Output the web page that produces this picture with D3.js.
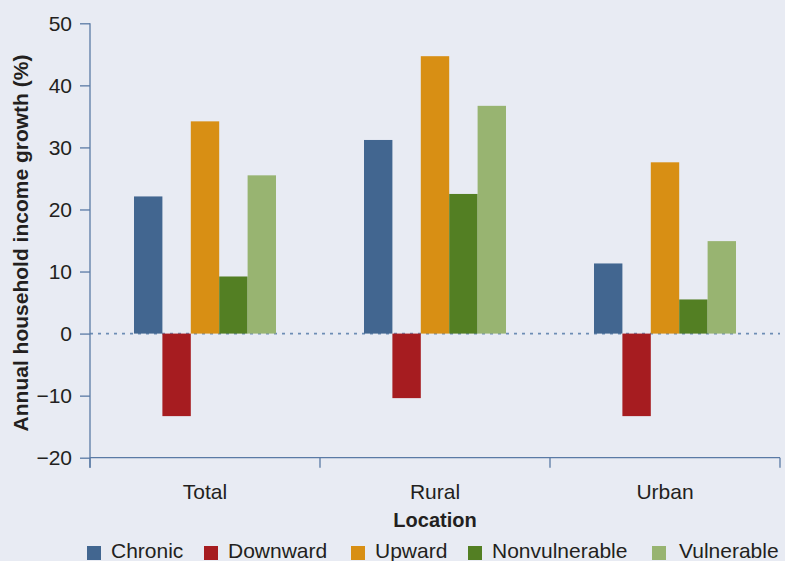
<!DOCTYPE html>
<html>
<head>
<meta charset="utf-8">
<script src="https://cdn.jsdelivr.net/npm/d3@7"></script>
<style>
  body { margin: 0; background: #e8ebf3; }
  svg { display: block; font-family: "Liberation Sans", Arial, sans-serif; }
  .axis path, .axis line { stroke: #5a7aa5; stroke-width: 1.3; }
  .axis text { fill: #231f20; font-size: 21px; }
</style>
</head>
<body>
<script>
// data
const locations = ["Total", "Rural", "Urban"];
const groups = ["Chronic", "Downward", "Upward", "Nonvulnerable", "Vulnerable"];
const chronic = [22.1, 31.2, 11.3];
const downward = [-13.3, -10.4, -13.3];
const upward = [34.2, 44.7, 27.6];
const nonvulnerable = [9.2, 22.5, 5.5];
const vulnerable = [25.5, 36.7, 14.9];
const yTicks = [-20, -10, 0, 10, 20, 30, 40, 50];

const colors = ["#426690", "#a61c20", "#d88f14", "#537f23", "#98b471"];
const seriesValues = [chronic, downward, upward, nonvulnerable, vulnerable];

const width = 785, height = 561;
const plot = {left: 90, right: 780, top: 23.3, bottom: 457.7};

const svg = d3.select("body").append("svg")
    .attr("width", width)
    .attr("height", height);

var x0 = d3.scaleBand().domain(locations).range([plot.left, plot.right]);
var x1 = d3.scaleBand().domain(groups).range([44, x0.bandwidth() - 44]);
var y = d3.scaleLinear().domain([-20, 50]).range([plot.bottom, plot.top]);
var color = d3.scaleOrdinal().domain(groups).range(colors);

// table built from the arrays
var rows = [];
locations.forEach(function(loc, i) {
    groups.forEach(function(g, j) {
        rows.push({loc: loc, group: g, value: seriesValues[j][i]});
    });
});

// zero line
svg.append("line")
    .attr("x1", plot.left).attr("x2", plot.right)
    .attr("y1", y(0)).attr("y2", y(0))
    .attr("stroke", "#6d8db5")
    .attr("stroke-width", 1.8)
    .attr("stroke-dasharray", "3,5");

svg.selectAll(".bar").data(rows).enter().append("rect")
    .attr("class", "bar")
    .attr("x", function(d) { return x0(d.loc) + x1(d.group); })
    .attr("width", x1.bandwidth())
    .attr("y", function(d) { return y(Math.max(0, d.value)); })
    .attr("height", function(d) { return Math.abs(y(d.value) - y(0)); })
    .attr("fill", function(d) { return color(d.group); });

// y axis
var yAxis = svg.append("g")
    .attr("class", "axis")
    .attr("transform", "translate(" + plot.left + ",0)")
    .call(d3.axisLeft(y).tickValues(yTicks).tickSize(10).tickSizeOuter(0).tickPadding(8)
        .tickFormat(function(d) { return d < 0 ? "\u2212" + Math.abs(d) : d; }));
yAxis.select(".domain").remove();
yAxis.append("line")
    .attr("x1", 0).attr("x2", 0)
    .attr("y1", y(50)).attr("y2", plot.bottom + 10);

// x axis: labels centred, ticks on band boundaries
var xAxis = svg.append("g")
    .attr("class", "axis")
    .attr("transform", "translate(0," + plot.bottom + ")")
    .call(d3.axisBottom(x0).tickSize(0).tickPadding(26));
xAxis.select(".domain").remove();
xAxis.append("line")
    .attr("x1", plot.left).attr("x2", plot.right)
    .attr("y1", 0).attr("y2", 0);
var bounds = locations.map(function(l) { return x0(l); }).concat([x0(locations[2]) + x0.bandwidth()]);
xAxis.selectAll(".bound").data(bounds).enter().append("line")
    .attr("class", "bound")
    .attr("x1", function(d) { return d; }).attr("x2", function(d) { return d; })
    .attr("y1", 0).attr("y2", 10);

// titles
svg.append("text")
    .attr("transform", "translate(28," + 243 + ") rotate(-90)")
    .attr("text-anchor", "middle")
    .style("font-size", "21px")
    .style("font-weight", "bold")
    .attr("fill", "#231f20")
    .text("Annual household income growth (%)");

svg.append("text")
    .attr("x", (plot.left + plot.right) / 2)
    .attr("y", 527)
    .attr("text-anchor", "middle")
    .style("font-size", "20px")
    .style("font-weight", "bold")
    .attr("fill", "#231f20")
    .text("Location");

// legend
var legendX = [87, 204, 351, 468, 652];
var legend = svg.selectAll(".legend").data(groups).enter().append("g")
    .attr("class", "legend")
    .attr("transform", function(d, i) { return "translate(" + legendX[i] + ",546)"; });
legend.append("rect")
    .attr("width", 14).attr("height", 14)
    .attr("fill", function(d) { return color(d); });
legend.append("text")
    .attr("x", function(d, i) { return i == 4 ? 27 : 24; })
    .attr("y", 12)
    .style("font-size", "21px")
    .attr("fill", "#231f20")
    .text(function(d) { return d; });
</script>
</body>
</html>
